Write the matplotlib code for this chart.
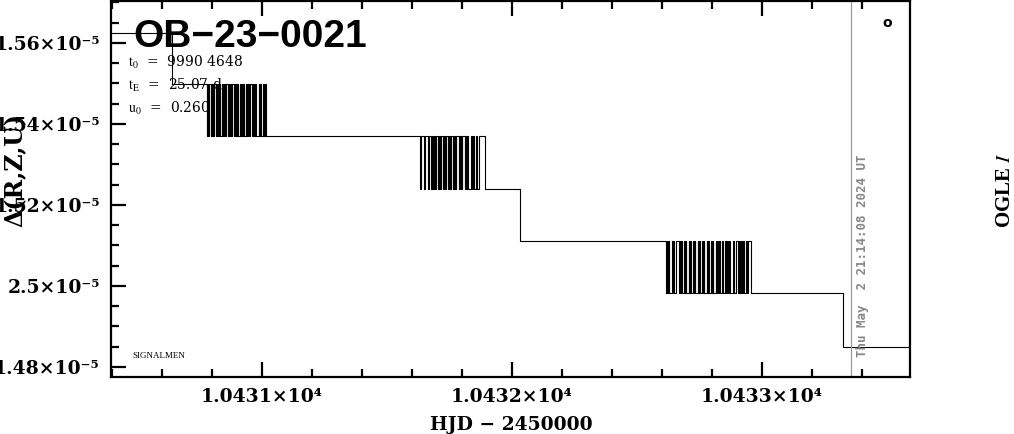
import matplotlib
matplotlib.use("Agg")
import matplotlib.pyplot as plt
from matplotlib.ticker import FixedLocator, FixedFormatter, MultipleLocator

# niveaux de Delta(R,Z,U)
niveaux = [1.5625e-5, 1.5499e-5, 1.5370e-5, 1.5240e-5, 1.5111e-5, 1.4983e-5, 1.4849e-5]

# instants (HJD - 2450000) des sauts isoles
debut = 10430.30
saut_1 = 10430.640
saut_2 = 10432.032
saut_3 = 10433.324
fin = 10433.70

# instants des basculements dans les trois paquets
paquet_1 = [10430.780, 10430.782, 10430.785, 10430.787, 10430.795, 10430.797, 10430.800,
            10430.804, 10430.806, 10430.808, 10430.816, 10430.818, 10430.820, 10430.823,
            10430.827, 10430.829, 10430.832, 10430.839, 10430.841, 10430.844, 10430.846,
            10430.849, 10430.853, 10430.855, 10430.863, 10430.865, 10430.868, 10430.871,
            10430.873, 10430.876, 10430.879, 10430.881, 10430.889, 10430.893, 10430.895,
            10430.898, 10430.900, 10430.903, 10430.905, 10430.914, 10430.917, 10430.919,
            10430.922, 10430.924, 10430.927, 10430.936, 10430.938, 10430.941, 10430.944,
            10430.946, 10430.949, 10430.952, 10430.962, 10430.965, 10430.969, 10430.972,
            10430.976, 10430.987, 10430.990, 10430.994, 10430.998, 10431.003, 10431.008,
            10431.012, 10431.016]
paquet_2 = [10431.632, 10431.635, 10431.648, 10431.651, 10431.664, 10431.668, 10431.676,
            10431.680, 10431.684, 10431.687, 10431.690, 10431.692, 10431.695, 10431.697,
            10431.705, 10431.707, 10431.710, 10431.712, 10431.715, 10431.717, 10431.725,
            10431.727, 10431.730, 10431.732, 10431.735, 10431.737, 10431.745, 10431.747,
            10431.750, 10431.752, 10431.755, 10431.757, 10431.765, 10431.767, 10431.770,
            10431.772, 10431.775, 10431.778, 10431.787, 10431.790, 10431.793, 10431.796,
            10431.799, 10431.802, 10431.811, 10431.814, 10431.817, 10431.820, 10431.824,
            10431.836, 10431.840, 10431.845, 10431.850, 10431.856, 10431.862, 10431.870,
            10431.892]
paquet_3 = [10432.616, 10432.619, 10432.622, 10432.625, 10432.628, 10432.640, 10432.643,
            10432.646, 10432.650, 10432.656, 10432.668, 10432.671, 10432.674, 10432.677,
            10432.680, 10432.689, 10432.692, 10432.695, 10432.698, 10432.707, 10432.710,
            10432.713, 10432.716, 10432.725, 10432.728, 10432.731, 10432.734, 10432.743,
            10432.746, 10432.749, 10432.752, 10432.761, 10432.764, 10432.767, 10432.770,
            10432.779, 10432.782, 10432.785, 10432.788, 10432.797, 10432.800, 10432.803,
            10432.806, 10432.815, 10432.818, 10432.821, 10432.824, 10432.827, 10432.832,
            10432.840, 10432.845, 10432.852, 10432.856, 10432.860, 10432.864, 10432.868,
            10432.872, 10432.885, 10432.890, 10432.895, 10432.904, 10432.908, 10432.912,
            10432.916, 10432.920, 10432.925, 10432.930, 10432.935, 10432.940, 10432.944,
            10432.956]

# graduations
x_ticks = [10431, 10432, 10433]
x_labels = ["1.0431×10⁴", "1.0432×10⁴", "1.0433×10⁴"]
y_ticks = [1.48e-5, 1.50e-5, 1.52e-5, 1.54e-5, 1.56e-5]
y_labels = ["1.48×10⁻⁵", "2.5×10⁻⁵", "1.52×10⁻⁵", "1.54×10⁻⁵", "1.56×10⁻⁵"]

ligne_date = 10433.356


def basculer(temps, haut, bas):
    # alterne entre deux niveaux a chaque instant
    ts, vs = [], []
    for i, t in enumerate(temps):
        ts.append(t)
        vs.append(bas if i % 2 == 0 else haut)
    return ts, vs


hjd = [debut, saut_1]
delta = [niveaux[0], niveaux[1]]
for paquet, (h, b) in [(paquet_1, (niveaux[1], niveaux[2])),
                       (paquet_2, (niveaux[2], niveaux[3]))]:
    ts, vs = basculer(paquet, h, b)
    hjd += ts
    delta += vs
hjd.append(saut_2)
delta.append(niveaux[4])
ts, vs = basculer(paquet_3, niveaux[4], niveaux[5])
hjd += ts
delta += vs
hjd += [saut_3, fin]
delta += [niveaux[6], niveaux[6]]

police = "DejaVu Serif"
plt.rcParams["mathtext.fontset"] = "stix"

fig = plt.figure(figsize=(10.14, 4.34), dpi=100)
ax = fig.add_axes([111 / 1014, 1 - 377 / 434, 799 / 1014, 376 / 434])

ax.plot(hjd, delta, drawstyle="steps-post", color="black", lw=0.8)
ax.axvline(ligne_date, color="#999999", lw=0.9)

ax.set_xlim(10430.396, 10433.592)
ax.set_ylim(1.47753e-5, 1.57037e-5)

# axes et graduations
for s in ax.spines.values():
    s.set_linewidth(1.6)
ax.xaxis.set_major_locator(FixedLocator(x_ticks))
ax.xaxis.set_major_formatter(FixedFormatter(x_labels))
ax.xaxis.set_minor_locator(MultipleLocator(0.2))
ax.yaxis.set_major_locator(FixedLocator(y_ticks))
ax.yaxis.set_major_formatter(FixedFormatter(y_labels))
ax.yaxis.set_minor_locator(MultipleLocator(0.05e-6))
ax.tick_params(which="both", direction="in", top=True, right=False, width=1.6)
ax.tick_params(which="major", length=11, pad=8)
ax.tick_params(which="minor", length=6)
for lab in ax.get_xticklabels() + ax.get_yticklabels():
    lab.set_fontfamily(police)
    lab.set_fontweight("bold")
    lab.set_fontsize(13.5)

ax.set_xlabel("HJD − 2450000", fontfamily=police, fontweight="bold", fontsize=13.5,
              va="center")
ax.xaxis.set_label_coords(0.5006, -0.128)
ax.set_ylabel("Δ(R,Z,U)", fontfamily=police, fontweight="bold", fontsize=17, va="center")
ax.yaxis.set_label_coords(-0.120, 0.55)

# textes dans le cadre
ax.text(0.0275, 0.8777, "OB−23−0021", transform=ax.transAxes, fontfamily="Liberation Sans",
        fontweight="bold", fontsize=28, va="baseline", ha="left")
ax.text(0.0213, 0.8245, r"$\mathrm{t_0}$  =  9990 4648", transform=ax.transAxes,
        fontfamily=police, fontsize=10, va="baseline")
ax.text(0.0213, 0.7633, r"$\mathrm{t_E}$  =  25.07 d", transform=ax.transAxes,
        fontfamily=police, fontsize=10, va="baseline")
ax.text(0.0213, 0.7021, r"$\mathrm{u_0}$  =  0.260", transform=ax.transAxes,
        fontfamily=police, fontsize=10, va="baseline")
ax.text(0.0263, 0.0505, "SIGNALMEN", transform=ax.transAxes, fontfamily="Liberation Serif",
        fontsize=6.5, va="baseline")
ax.text(0.971, 0.9415, "o", transform=ax.transAxes, fontfamily="DejaVu Sans",
        fontweight="bold", fontsize=10, ha="center", va="center")
ax.text(0.94, 0.3218, "Thu May  2 21:14:08 2024 UT", transform=ax.transAxes,
        fontfamily="DejaVu Sans Mono", fontweight="bold", fontsize=9, color="#888888",
        rotation=90, ha="center", va="center")

fig.text(0.991, 0.562, r"OGLE $\mathit{I}$", fontfamily="Liberation Serif", fontweight="bold",
         fontsize=15, rotation=90, ha="center", va="center")

fig.savefig("out.png", dpi=100)
